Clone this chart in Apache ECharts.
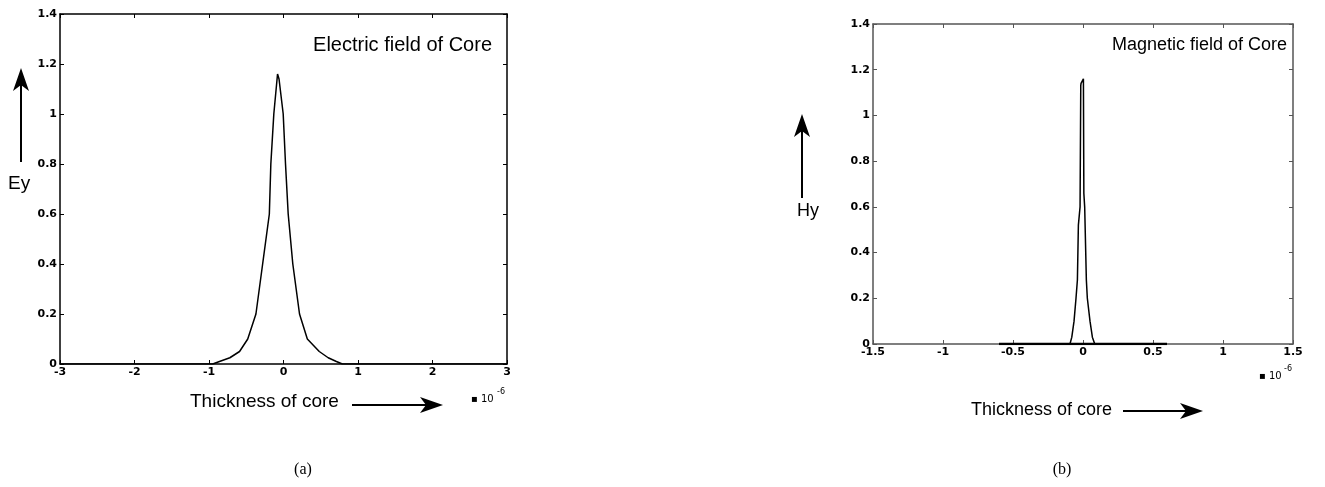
<!DOCTYPE html>
<html>
<head>
<meta charset="utf-8">
<script src="https://cdn.jsdelivr.net/npm/echarts@6/dist/echarts.min.js"></script>
<style>
  html, body { margin: 0; padding: 0; background: #fff; }
  #chart { width: 1325px; height: 487px; }
</style>
</head>
<body>
<div id="chart"></div>
<script>
// (a) electric field Ey vs core thickness (x 1e-6)
var eyX = [-3, -0.95, -0.86, -0.72, -0.59, -0.48, -0.37, -0.28, -0.19, -0.17, -0.13, -0.08, -0.06, -0.004, 0.027, 0.063, 0.125, 0.215, 0.32, 0.48, 0.6, 0.71, 0.79, 3];
var eyY = [0, 0, 0.01, 0.025, 0.05, 0.1, 0.2, 0.4, 0.6, 0.8, 1.0, 1.16, 1.14, 1.0, 0.8, 0.6, 0.4, 0.2, 0.1, 0.05, 0.025, 0.01, 0, 0];

// (b) magnetic field Hy vs core thickness (x 1e-6)
var hyX = [-0.6, -0.093, -0.08, -0.064, -0.05, -0.04, -0.033, -0.021, -0.016, -0.014, 0.003, 0.006, 0.009, 0.012, 0.024, 0.031, 0.05, 0.067, 0.084, 0.6];
var hyY = [0, 0, 0.03, 0.1, 0.2, 0.28, 0.52, 0.6, 1.13, 1.14, 1.16, 0.66, 0.66, 0.6, 0.28, 0.2, 0.1, 0.03, 0, 0];

var xTicksA = { min: -3, max: 3, interval: 1 };
var xTicksB = { min: -1.5, max: 1.5, interval: 0.5 };
var yTicks = { min: 0, max: 1.4, interval: 0.2 };

function pairs(xs, ys) {
  return xs.map(function (x, i) { return [x, ys[i]]; });
}

var tickFont = { color: '#000', fontSize: 11, fontWeight: 'bold', fontFamily: 'DejaVu Sans' };

function xAxes(gridIndex, t, color) {
  var base = {
    type: 'value', gridIndex: gridIndex, min: t.min, max: t.max, interval: t.interval,
    splitLine: { show: false },
    axisLine: { onZero: false, lineStyle: { color: color, width: 1.5 } },
    axisTick: { inside: true, length: 4, lineStyle: { color: color } }
  };
  return [
    Object.assign({}, base, { position: 'bottom', axisLabel: Object.assign({ margin: 3 }, tickFont) }),
    Object.assign({}, base, { position: 'top', axisLabel: { show: false } })
  ];
}

function yAxes(gridIndex, color) {
  var base = {
    type: 'value', gridIndex: gridIndex, min: yTicks.min, max: yTicks.max, interval: yTicks.interval,
    splitLine: { show: false },
    axisLine: { onZero: false, lineStyle: { color: color, width: 1.5 } },
    axisTick: { inside: true, length: 4, lineStyle: { color: color } }
  };
  return [
    Object.assign({}, base, { position: 'left', axisLabel: Object.assign({ margin: 3 }, tickFont) }),
    Object.assign({}, base, { position: 'right', axisLabel: { show: false } })
  ];
}

function arrow(x1, y1, x2, y2) {
  // shaft + head
  var dx = x2 - x1, dy = y2 - y1, len = Math.sqrt(dx * dx + dy * dy);
  var ux = dx / len, uy = dy / len, hl = 23, hw = 8;
  var bx = x2 - ux * hl, by = y2 - uy * hl;
  return [
    { type: 'line', shape: { x1: x1, y1: y1, x2: bx + ux * 6, y2: by + uy * 6 }, style: { stroke: '#000', lineWidth: 2 } },
    { type: 'polygon', shape: { points: [[x2, y2], [bx - uy * hw, by + ux * hw], [bx + ux * 6, by + uy * 6], [bx + uy * hw, by - ux * hw]] }, style: { fill: '#000' } }
  ];
}

var labelFont = 'Liberation Sans';

function txt(x, y, s, size, align, family) {
  return { type: 'text', x: x, y: y, style: { text: s, fontSize: size, fontFamily: family || labelFont, fill: '#000', align: align || 'left', verticalAlign: 'middle' } };
}

var graphics = []
  .concat([txt(492, 45, 'Electric field of Core', 20, 'right')])
  .concat(arrow(21, 162, 21, 68))
  .concat([txt(8, 184, 'Ey', 19)])
  .concat([txt(190, 402, 'Thickness of core', 19)])
  .concat(arrow(352, 405, 443, 405))
  .concat([txt(471, 399, '\u25AA 10', 10, 'left', 'DejaVu Sans'), txt(497, 392, '-6', 8, 'left', 'DejaVu Sans')])
  .concat([txt(1287, 45, 'Magnetic field of Core', 18, 'right')])
  .concat(arrow(802, 198, 802, 114))
  .concat([txt(797, 211, 'Hy', 18)])
  .concat([txt(971, 410, 'Thickness of core', 18)])
  .concat(arrow(1123, 411, 1203, 411))
  .concat([txt(1259, 376, '\u25AA 10', 10, 'left', 'DejaVu Sans'), txt(1284, 369, '-6', 8, 'left', 'DejaVu Sans')])
  .concat([txt(303, 470, '(a)', 16, 'center', 'Liberation Serif'), txt(1062, 470, '(b)', 16, 'center', 'Liberation Serif')]);

var chart = echarts.init(document.getElementById('chart'));
chart.setOption({
  animation: false,
  backgroundColor: '#fff',
  grid: [
    { left: 60, top: 14, width: 447, height: 350 },
    { left: 873, top: 24, width: 420, height: 320 }
  ],
  xAxis: xAxes(0, xTicksA, '#000').concat(xAxes(1, xTicksB, '#555')),
  yAxis: yAxes(0, '#000').concat(yAxes(1, '#555')),
  series: [
    {
      type: 'line', xAxisIndex: 0, yAxisIndex: 0, data: pairs(eyX, eyY),
      showSymbol: false, lineStyle: { color: '#000', width: 1.5 }
    },
    {
      type: 'line', xAxisIndex: 2, yAxisIndex: 2, data: pairs(hyX, hyY),
      showSymbol: false, lineStyle: { color: '#000', width: 1.5 }
    },
    {
      type: 'line', xAxisIndex: 2, yAxisIndex: 2, data: [[hyX[0], 0], [hyX[hyX.length - 1], 0]],
      showSymbol: false, lineStyle: { color: '#000', width: 2.5 }
    }
  ],
  graphic: graphics
});
</script>
</body>
</html>
